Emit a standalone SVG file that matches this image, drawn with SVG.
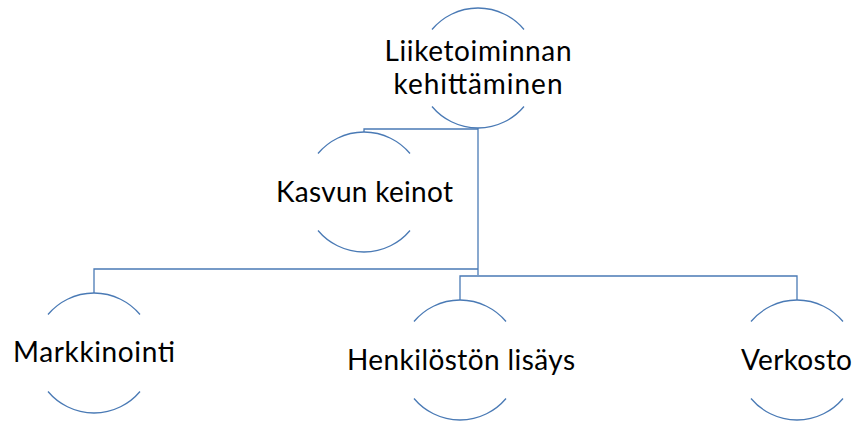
<svg xmlns="http://www.w3.org/2000/svg" width="856" height="421" viewBox="0 0 856 421">
  <style>
    .ring { fill: none; stroke: #4a7ab5; stroke-width: 1.3; }
    .link { fill: none; stroke: #4a7ab5; stroke-width: 1.3; }
    .label { font-family: Lato, "Open Sans", "Liberation Sans", sans-serif; font-size: 28px; fill: #000; text-anchor: middle; }
  </style>
  <rect width="856" height="421" fill="#fff"/>

  <!-- org-chart connectors -->
  <g id="connectors">
    <polyline class="link" points="478,128 478,275"/>
    <polyline class="link" points="364,132 364,129 478,129"/>
    <polyline class="link" points="94,293 94,269 478,269"/>
    <polyline class="link" points="460,300 460,276 797,276 797,300"/>
  </g>

  <!-- each node: upper and lower arc of a circle, label in the gap -->
  <g id="node-liiketoiminnan">
    <path class="ring" d="M432,29.5 A60,60 0 0 1 524,29.5"/>
    <path class="ring" d="M432,106.5 A60,60 0 0 0 524,106.5"/>
    <text class="label" x="478" y="61" textLength="187">Liiketoiminnan</text>
    <text class="label" x="478" y="94" textLength="169">kehittäminen</text>
  </g>

  <g id="node-kasvun-keinot">
    <path class="ring" d="M318,153.5 A60,60 0 0 1 410,153.5"/>
    <path class="ring" d="M318,230.5 A60,60 0 0 0 410,230.5"/>
    <text class="label" x="364.5" y="202" textLength="177">Kasvun keinot</text>
  </g>

  <g id="node-markkinointi">
    <path class="ring" d="M48,314.5 A60,60 0 0 1 140,314.5"/>
    <path class="ring" d="M48,391.5 A60,60 0 0 0 140,391.5"/>
    <text class="label" x="94" y="362" textLength="162">Markkinointi</text>
  </g>

  <g id="node-henkiloston-lisays">
    <path class="ring" d="M414,321.5 A60,60 0 0 1 506,321.5"/>
    <path class="ring" d="M414,398.5 A60,60 0 0 0 506,398.5"/>
    <text class="label" x="461" y="370" textLength="228">Henkilöstön lisäys</text>
  </g>

  <g id="node-verkosto">
    <path class="ring" d="M751,321.5 A60,60 0 0 1 843,321.5"/>
    <path class="ring" d="M751,398.5 A60,60 0 0 0 843,398.5"/>
    <text class="label" x="796.5" y="370" textLength="111">Verkosto</text>
  </g>
</svg>
